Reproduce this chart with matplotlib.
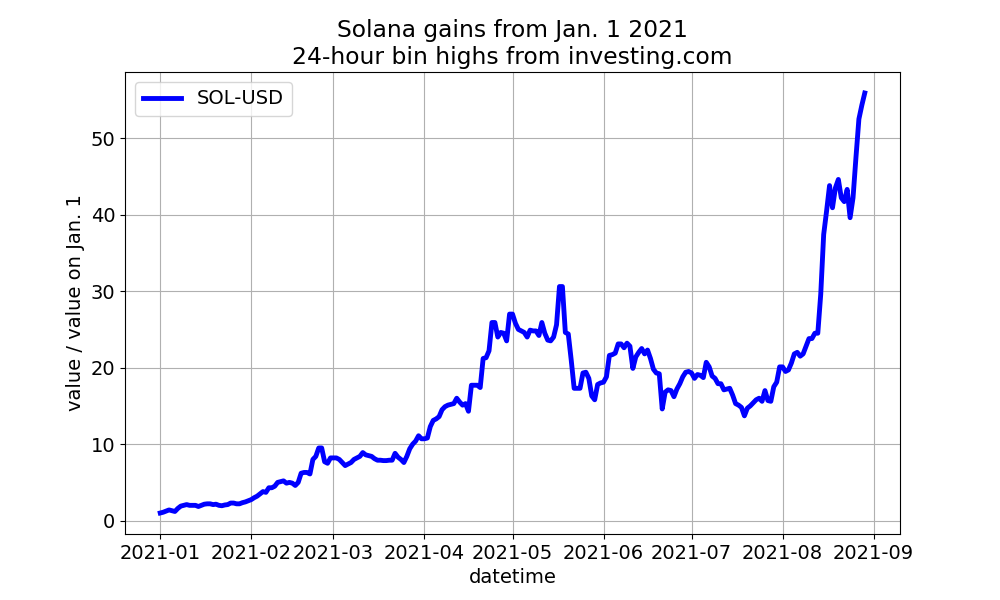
import matplotlib
matplotlib.use('Agg')
import matplotlib.pyplot as plt
import numpy as np
import pandas as pd

# daily highs relative to Jan. 1 value
jan = [1.0, 1.1, 1.25, 1.4, 1.3, 1.2, 1.6, 1.9, 2.0, 2.1, 2.0, 2.0, 2.0, 1.85, 2.0, 2.15,
       2.2, 2.2, 2.1, 2.15, 2.0, 1.95, 2.05, 2.1, 2.3, 2.3, 2.2, 2.2, 2.35, 2.45, 2.6]
feb = [2.75, 3.0, 3.2, 3.5, 3.8, 3.7, 4.3, 4.3, 4.5, 5.0, 5.1, 5.2, 4.9, 5.0, 4.9, 4.6,
       5.0, 6.2, 6.3, 6.3, 6.1, 8.0, 8.4, 9.5, 9.5, 7.7, 7.5, 8.2]
mar = [8.2, 8.2, 8.0, 7.6, 7.2, 7.4, 7.6, 8.0, 8.2, 8.4, 8.9, 8.6, 8.5, 8.4, 8.1, 7.9,
       7.9, 7.85, 7.85, 7.9, 7.9, 8.8, 8.3, 8.0, 7.6, 8.4, 9.4, 10.0, 10.4, 11.1, 10.7]
apr = [10.7, 10.8, 12.3, 13.1, 13.3, 13.6, 14.5, 14.9, 15.1, 15.2, 15.3, 16.0, 15.5, 15.1,
       15.3, 14.3, 17.7, 17.7, 17.7, 17.4, 21.2, 21.3, 22.2, 25.9, 25.9, 24.0, 24.6, 24.5,
       23.5, 27.0]
may = [27.0, 25.8, 25.0, 24.8, 24.6, 24.0, 24.9, 24.8, 24.8, 24.2, 25.9, 24.5, 23.6, 23.5,
       24.0, 25.6, 30.6, 30.6, 24.6, 24.4, 21.0, 17.3, 17.3, 17.3, 19.3, 19.4, 18.6, 16.3,
       15.8, 17.8, 18.0]
jun = [18.1, 18.8, 21.6, 21.7, 21.9, 23.1, 23.1, 22.6, 23.2, 22.8, 19.9, 21.4, 22.0, 22.5,
       21.8, 22.3, 21.2, 19.8, 19.3, 19.2, 14.6, 16.8, 17.1, 17.0, 16.2, 17.2, 17.9, 18.8,
       19.4, 19.5]
jul = [19.3, 18.6, 19.1, 19.0, 18.7, 20.7, 20.1, 18.9, 18.6, 17.9, 17.9, 17.1, 17.2, 17.3,
       16.4, 15.3, 15.1, 14.8, 13.7, 14.7, 15.0, 15.4, 15.8, 16.0, 15.6, 17.0, 15.7, 15.6,
       17.5, 18.1, 20.1]
aug = [20.1, 19.5, 19.7, 20.6, 21.8, 22.0, 21.5, 21.8, 22.8, 23.8, 23.8, 24.5, 24.5, 29.6,
       37.4, 40.5, 43.8, 40.9, 43.5, 44.6, 42.2, 41.7, 43.3, 39.6, 42.2, 47.5, 52.5, 54.3,
       55.9]

values = jan + feb + mar + apr + may + jun + jul + aug
dates = pd.date_range('2021-01-01', periods=len(values), freq='D')

plt.rcParams['font.size'] = 14

fig, ax = plt.subplots(figsize=(10, 6), dpi=100)
ax.plot(dates, values, color='blue', linewidth=3.5, label='SOL-USD')
ax.set_title('Solana gains from Jan. 1 2021\n24-hour bin highs from investing.com')
ax.set_xlabel('datetime')
ax.set_ylabel('value / value on Jan. 1')
ax.grid(True)
ax.legend(loc='upper left')
fig.savefig('out.png', dpi=100)
